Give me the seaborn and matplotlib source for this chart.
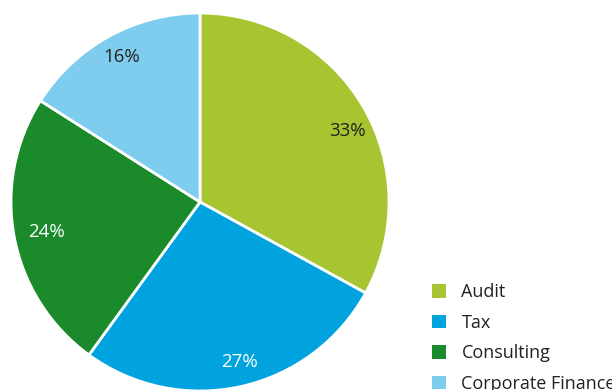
import matplotlib
matplotlib.use("Agg")
import matplotlib.pyplot as plt
import seaborn as sns
from matplotlib.patches import Patch

segments = ["Audit", "Tax", "Consulting", "Corporate Finance"]
shares = [33, 27, 24, 16]
colors = ["#a6c530", "#00a3de", "#1b8a2b", "#7ecdef"]
label_colors = ["#222222", "white", "white", "#222222"]
# small nudges of the percent labels (in radius units)
label_nudge = [(0.042, -0.063), (0.02, -0.005), (0.03, 0.005), (0.0, 0.016)]

sns.set_theme(style="white")
plt.rcParams["font.family"] = ["Open Sans", "DejaVu Sans"]

fig = plt.figure(figsize=(6.12, 3.9), dpi=100)
ax = fig.add_axes([11 / 612, -1 / 390, 378 / 612, 378 / 390])

wedges, texts, autotexts = ax.pie(
    shares,
    colors=colors,
    startangle=90,
    counterclock=False,
    autopct="%d%%",
    pctdistance=0.86,
    wedgeprops=dict(edgecolor="white", linewidth=2),
    textprops=dict(fontsize=13.5),
)
for t, c, (dx, dy) in zip(autotexts, label_colors, label_nudge):
    t.set_color(c)
    x, y = t.get_position()
    t.set_position((x + dx, y + dy))
ax.set_xlim(-1, 1)
ax.set_ylim(-1, 1)
ax.set_aspect("equal")
ax.axis("off")

handles = [Patch(facecolor=c, edgecolor="none") for c in colors]
fig.legend(
    handles, segments,
    loc="upper left",
    bbox_to_anchor=(432 / 612, 1 - 283 / 390),
    frameon=False,
    fontsize=13,
    handlelength=0.78,
    handleheight=0.78,
    handletextpad=0.85,
    labelspacing=0.70,
    borderpad=0,
    borderaxespad=0,
    labelcolor="#222222",
)

fig.savefig("out.png", dpi=100)
